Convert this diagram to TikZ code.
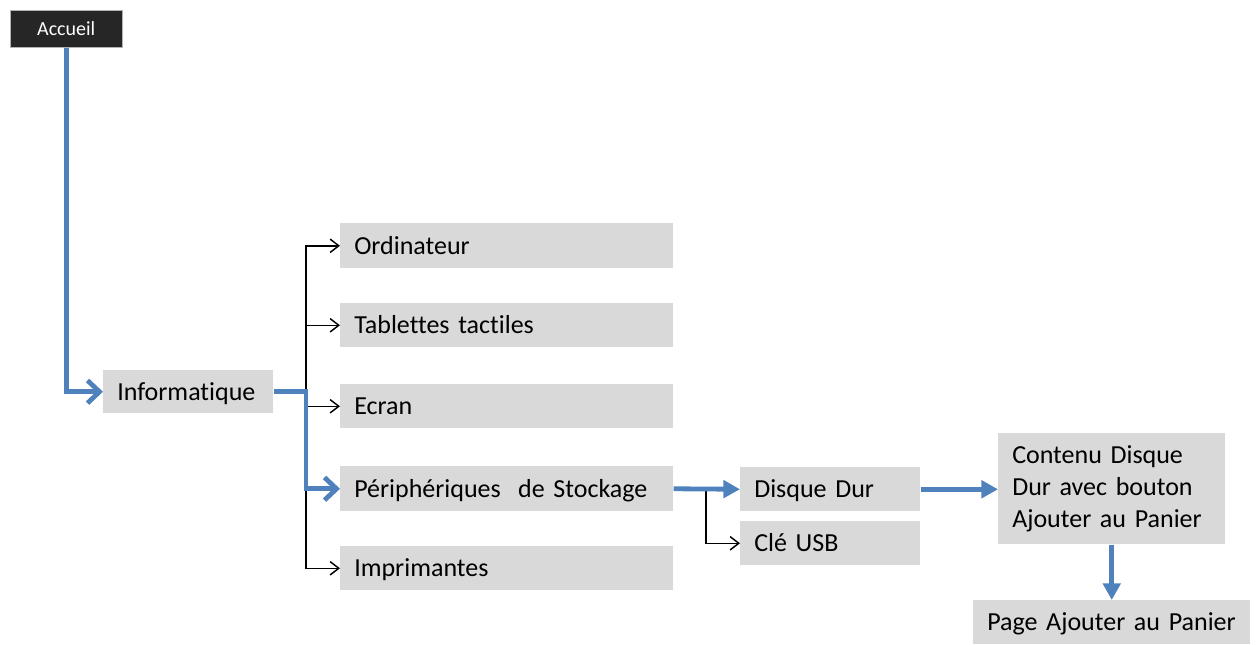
\documentclass[tikz,border=0pt]{standalone}
\usepackage{fontspec}
\setmainfont{Carlito}[Ligatures=NoCommon]
\usetikzlibrary{arrows.meta}
\definecolor{boxgray}{HTML}{D9D9D9}
\definecolor{linkblue}{HTML}{4F81BD}
\definecolor{topdark}{HTML}{262626}
\begin{document}
\begin{tikzpicture}[x=0.75pt,y=-0.75pt,
  gbox/.style 2 args={draw=none, fill=boxgray, anchor=north west,
    minimum width=#1*0.75pt, minimum height=#2*0.75pt,
    text width=(#1-28)*0.75pt, inner xsep=10.5pt, inner ysep=0pt, align=left,
    text depth=0.5pt,
    font=\fontsize{19.5}{24}\selectfont},
  topbox/.style={fill=topdark, draw=gray!60, text=white, anchor=north west,
    minimum width=112*0.75pt, minimum height=37*0.75pt, inner sep=0pt,
    font=\fontsize{15}{18}\selectfont},
  bluelink/.style={draw=linkblue, line width=3.6pt},
  bluebarb/.style={bluelink, -{Straight Barb[length=9pt,width=17pt,line width=3.6pt]}},
  bluetri/.style={bluelink, -{Triangle[length=12.5pt,width=13pt]}},
  thinlink/.style={draw=black, line width=1.1pt},
  thinbarb/.style={thinlink, -{Straight Barb[length=6.5pt,width=10pt,line width=1.1pt]}},
]
\useasboundingbox (0,0) rectangle (1258,644);

% nodes
\node[topbox] (acc) at (10,10) {Accueil};
\node[gbox={170}{43}] (info) at (103,370) {Informatique};
\node[gbox={333}{45}] (ord) at (340,223) {Ordinateur};
\node[gbox={333}{44}] (tab) at (340,303) {Tablettes tactiles};
\node[gbox={333}{44}] (ecr) at (340,384) {Ecran};
\node[gbox={333}{45}] (per) at (340,466) {Périphériques\ \ de Stockage};
\node[gbox={333}{44}] (imp) at (340,546) {Imprimantes};
\node[gbox={180}{44}] (dd) at (740,467) {Disque Dur};
\node[gbox={180}{44}] (usb) at (740,521) {Clé USB};
\node[gbox={227}{111}, text depth=] (cont) at (998,433) {Contenu Disque\\Dur avec bouton\\Ajouter au Panier};
\node[gbox={277}{44}] (page) at (973,600) {Page Ajouter au Panier};

% branch columns
\coordinate (j1) at (306,0);
\coordinate (j2) at (706,0);

% thin branches to the sub-categories
\draw[thinbarb] (j1 |- imp.west) -- (j1 |- ord.west) -- (ord.west);
\draw[thinbarb] (j1 |- tab.west) -- (tab.west);
\draw[thinbarb] (j1 |- ecr.west) -- (ecr.west);
\draw[thinbarb] (j1 |- ord.west) |- (imp.west);
\draw[thinbarb] (j2 |- per.east) |- (usb.west);

% main path
\draw[bluebarb] (acc.south) |- (info.west);
\draw[bluebarb] (info.east) -- (j1 |- info.east) |- (per.west);
\draw[bluetri] (per.east) -- (dd.west);
\draw[bluetri] (dd.east) -- (dd.east -| cont.west);
\draw[bluetri] (cont.south) -- (page.north);
\end{tikzpicture}
\end{document}
